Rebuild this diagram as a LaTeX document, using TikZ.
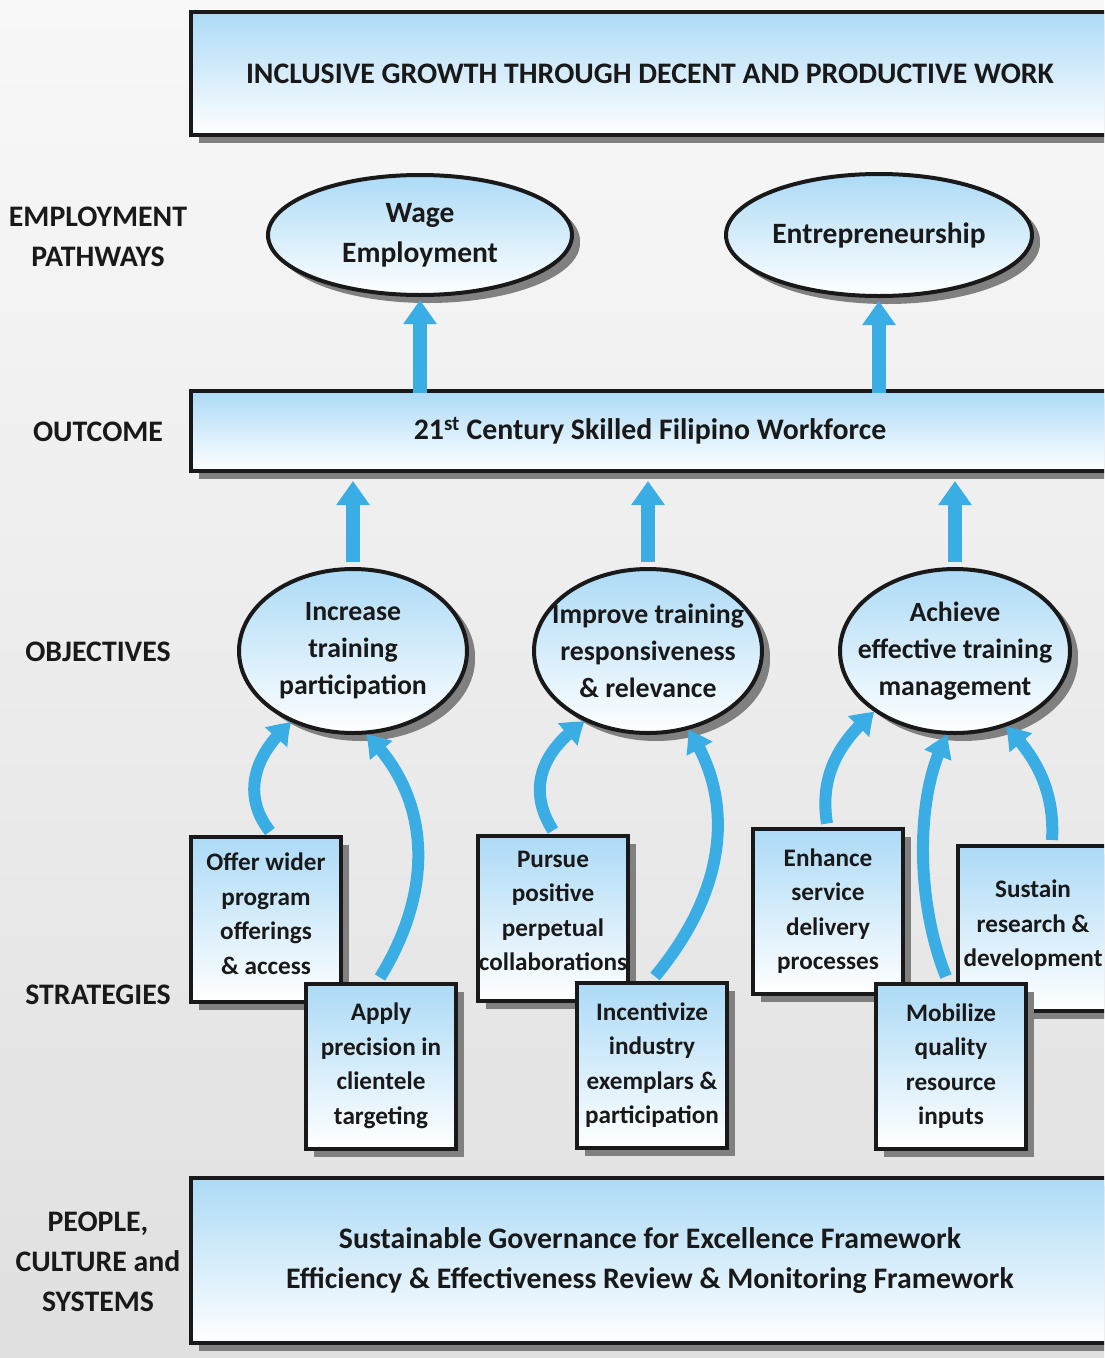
\documentclass[tikz,border=0pt]{standalone}
\usepackage{fontspec}
\setmainfont{Carlito}
\usetikzlibrary{shapes.geometric,shadows,arrows.meta,bending}
\definecolor{boxtop}{RGB}{172,218,246}
\definecolor{arrowblue}{RGB}{58,174,228}
\definecolor{shadowgray}{RGB}{128,128,128}
\definecolor{ink}{RGB}{25,25,25}
\definecolor{bgtop}{RGB}{248,248,248}
\definecolor{bgbottom}{RGB}{224,224,224}
\begin{document}
\begin{tikzpicture}[x=1pt,y=-1pt,
  shaded/.style={draw=ink, line width=4pt, top color=boxtop, bottom color=white,
    text=ink, align=center, inner sep=0pt,
    drop shadow={shadow xshift=8pt,shadow yshift=-8pt,fill=shadowgray,opacity=1}},
  bigbox/.style={shaded, rectangle, minimum width=918pt,
    font={\fontsize{29.8}{40}\selectfont\bfseries}},
  pathoval/.style={shaded, ellipse, inner sep=-40pt, font={\fontsize{29.5}{40}\selectfont\bfseries},
    drop shadow={shadow xshift=8pt,shadow yshift=-6pt,fill=shadowgray,opacity=1}},
  objoval/.style={shaded, ellipse, inner sep=-40pt, minimum width=228pt, minimum height=164pt,
    font={\fontsize{27.8}{37}\selectfont\bfseries},
    drop shadow={shadow xshift=8pt,shadow yshift=-6pt,fill=shadowgray,opacity=1}},
  stratbox/.style={shaded, rectangle, minimum width=150pt, minimum height=165pt,
    font={\fontsize{25.2}{34.5}\selectfont\bfseries}},
  rowlabel/.style={text=ink, align=center, font={\fontsize{29.8}{40}\selectfont\bfseries}},
  uparrow/.style={arrowblue, line width=14pt, -{Triangle[width=32pt,length=24pt]}},
  curvarrow/.style={arrowblue, line width=12pt, -{Triangle[width=28pt,length=22pt,bend]}}
]
\path[use as bounding box, clip] (0,0) rectangle (1104,1358);
\shade[top color=bgtop, bottom color=bgbottom] (0,0) rectangle (1104,1358);

% left row labels
\node[rowlabel] (lpath) at (98,237) {EMPLOYMENT\\PATHWAYS};
\node[rowlabel] (lout) at (98,432) {OUTCOME};
\node[rowlabel] (lobj) at (98,652) {OBJECTIVES};
\node[rowlabel] (lstr) at (98,995) {STRATEGIES};
\node[rowlabel] (lpeo) at (98,1262) {PEOPLE,\\CULTURE and\\SYSTEMS};

% top goal box
\node[bigbox, minimum height=123pt] (goal) at (650,73.5)
  {INCLUSIVE GROWTH THROUGH DECENT AND PRODUCTIVE WORK};

% pathways
\node[pathoval, minimum width=304pt, minimum height=120pt] (wage) at (420,235)
  {Wage\\Employment};
\node[pathoval, minimum width=306pt, minimum height=122pt] (entre) at (879,235)
  {Entrepreneurship};

% outcome
\node[bigbox, minimum height=80pt] (outcome) at (650,431)
  {21\textsuperscript{st} Century Skilled Filipino Workforce};

% objectives
\node[objoval] (obj1) at (353,651) {Increase\\training\\participation};
\node[objoval] (obj2) at (648,651) {Improve training\\responsiveness\\\& relevance};
\node[objoval, minimum width=230pt] (obj3) at (955,651) {Achieve\\effective training\\management};

% straight arrows
\draw[uparrow] ([yshift=-4pt]outcome.north -| wage.south) -- ([yshift=-3pt]wage.south);
\draw[uparrow] ([yshift=-4pt]outcome.north -| entre.south) -- ([yshift=-3pt]entre.south);
\draw[uparrow] ([yshift=5pt]obj1.north) -- ([yshift=-8pt]outcome.south -| obj1.north);
\draw[uparrow] ([yshift=5pt]obj2.north) -- ([yshift=-8pt]outcome.south -| obj2.north);
\draw[uparrow] ([yshift=5pt]obj3.north) -- ([yshift=-8pt]outcome.south -| obj3.north);

% strategy boxes
\node[stratbox] (offer) at (266,919) {Offer wider\\program\\offerings\\\& access\\[-24pt]};
\node[stratbox] (apply) at (381,1066) {Apply\\precision in\\clientele\\targeting};
\node[stratbox] (pursue) at (553,918) {Pursue\\positive\\perpetual\\collaborations\\[-20pt]};
\node[stratbox] (incent) at (652,1065) {Incentivize\\industry\\exemplars \&\\participation};
\node[stratbox] (enhance) at (828,911) {Enhance\\service\\delivery\\processes};
\node[stratbox] (sustain) at (1033,928.5) {Sustain\\research \&\\development\\[-24pt]};
\node[stratbox] (mobil) at (951,1066) {Mobilize\\quality\\resource\\inputs};

% curved arrows
\draw[curvarrow] ([xshift=4pt,yshift=3pt]offer.north) .. controls (245,800) and (248,760) .. (obj1.229);
\draw[curvarrow] ([xshift=-1pt,yshift=4pt]apply.north) .. controls (440,880) and (425,790) .. (obj1.279);
\draw[curvarrow] ([yshift=3pt]pursue.north) .. controls (530,795) and (535,755) .. (obj2.228);
\draw[curvarrow] ([xshift=3pt,yshift=4pt]incent.north) .. controls (735,880) and (730,790) .. (obj2.297);
\draw[curvarrow] ([xshift=-1pt,yshift=3pt]enhance.north) .. controls (820,780) and (835,745) .. (obj3.217);
\draw[curvarrow] ([xshift=-5pt,yshift=5pt]mobil.north) .. controls (915,900) and (915,790) .. (obj3.265);
\draw[curvarrow] ([xshift=19pt,yshift=4pt]sustain.north) .. controls (1055,790) and (1035,755) .. (obj3.304);

% bottom foundation box
\node[bigbox, minimum height=165pt] (found) at (650,1260.5)
  {Sustainable Governance for Excellence Framework\\Efficiency \& Effectiveness Review \& Monitoring Framework};
\end{tikzpicture}
\end{document}
